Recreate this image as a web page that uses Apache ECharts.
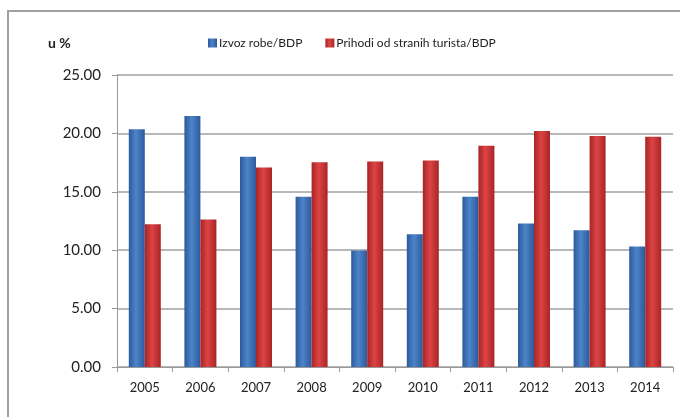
<!DOCTYPE html>
<html>
<head>
<meta charset="utf-8">
<script src="https://cdn.jsdelivr.net/npm/echarts@6/dist/echarts.min.js"></script>
<style>
html,body{margin:0;padding:0;background:#fff;}
#c{width:680px;height:417px;}
</style>
</head>
<body>
<div id="c"></div>
<script>
var categories = ['2005','2006','2007','2008','2009','2010','2011','2012','2013','2014'];
var seriesNames = ['Izvoz robe/BDP','Prihodi od stranih turista/BDP'];
var izvozRobe = [20.35, 21.49, 18.00, 14.57, 9.97, 11.37, 14.57, 12.29, 11.71, 10.32];
var prihodiTurista = [12.23, 12.63, 17.09, 17.52, 17.60, 17.69, 18.94, 20.20, 19.77, 19.71];
var yTicks = [0, 5, 10, 15, 20, 25];

function grad(edge, mid){
  return new echarts.graphic.LinearGradient(0,0,1,0,[
    {offset:0,color:edge},{offset:0.45,color:mid},{offset:1,color:edge}
  ]);
}
var font = 'Lato, "Open Sans", sans-serif';
var chart = echarts.init(document.getElementById('c'), null, {renderer:'canvas'});
chart.setOption({
  animation:false,
  backgroundColor:'#fff',
  graphic:[
    {type:'rect', shape:{x:8,y:11,width:700,height:420}, style:{fill:'none',stroke:'#a0a0a0',lineWidth:2}},
    {type:'text', left:48, top:36, style:{text:'u %', font:'bold 14px ' + font, fill:'#222'}}
  ],
  legend:{
    left:203, top:32, itemWidth:9, itemHeight:9, itemGap:23, icon:'rect',
    textStyle:{fontFamily:font, fontSize:12, color:'#222', padding:[0,0,0,-3]},
    data:seriesNames
  },
  grid:{left:117, right:7, top:75, bottom:50, containLabel:false},
  xAxis:{
    type:'category', data:categories,
    axisLine:{lineStyle:{color:'#999', width:1}},
    axisTick:{show:true, length:5, lineStyle:{color:'#999'}},
    axisLabel:{fontFamily:font, fontSize:13, color:'#222', margin:14}
  },
  yAxis:{
    type:'value', min:yTicks[0], max:yTicks[yTicks.length-1], interval:5,
    axisLine:{show:true, lineStyle:{color:'#999', width:1}},
    axisTick:{show:true, length:5, lineStyle:{color:'#999'}},
    splitLine:{lineStyle:{color:'#a0a0a0', width:1.5}},
    axisLabel:{fontFamily:font, fontSize:15, color:'#222', margin:16,
      formatter:function(v){return v.toFixed(2);}}
  },
  series:[
    {name:seriesNames[0], type:'bar', data:izvozRobe, barWidth:16, barGap:'0%',
     itemStyle:{color:grad('#2c5a9c','#4d84c8')}},
    {name:seriesNames[1], type:'bar', data:prihodiTurista, barWidth:16, barGap:'0%',
     itemStyle:{color:grad('#a92426','#dc4444')}}
  ]
});
</script>
</body>
</html>
